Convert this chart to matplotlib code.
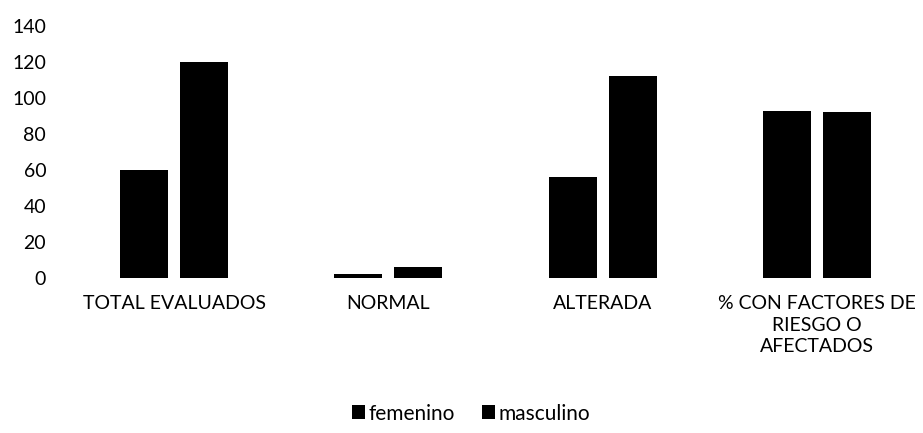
import numpy as np
import matplotlib.pyplot as plt

categories = ['TOTAL EVALUADOS', 'NORMAL', 'ALTERADA', '% CON FACTORES DE\nRIESGO O\nAFECTADOS']
femenino = [60, 2, 56, 93]
masculino = [120, 6, 112, 92]
yticks = [0, 20, 40, 60, 80, 100, 120, 140]

plt.rcParams['font.family'] = ['Lato', 'DejaVu Sans']

fig = plt.figure(figsize=(9.23, 4.33), dpi=100)
ax = fig.add_axes([0.0726, 0.358, 0.9284, 0.582])

x = np.arange(len(categories))
w = 0.224
ax.bar(x - 0.14, femenino, w, color='black', label='femenino')
ax.bar(x + 0.14, masculino, w, color='black', label='masculino')

ax.set_xlim(-0.5, len(categories) - 0.5)
ax.set_ylim(0, 140)
ax.set_yticks(yticks)
ax.set_xticks(x)
ax.set_xticklabels(categories, fontsize=14, linespacing=1.35, va='top')
ax.tick_params(axis='y', labelsize=14, length=0, pad=15)
ax.tick_params(axis='x', length=0, pad=12)
for s in ax.spines.values():
    s.set_visible(False)

ax.legend(loc='center', bbox_to_anchor=(0.51, 0.045), bbox_transform=fig.transFigure,
          frameon=False, ncol=2, fontsize=15, handlelength=0.65, handleheight=0.65,
          handletextpad=0.15, columnspacing=1.3, borderpad=0)

fig.savefig('out.png', dpi=100)
